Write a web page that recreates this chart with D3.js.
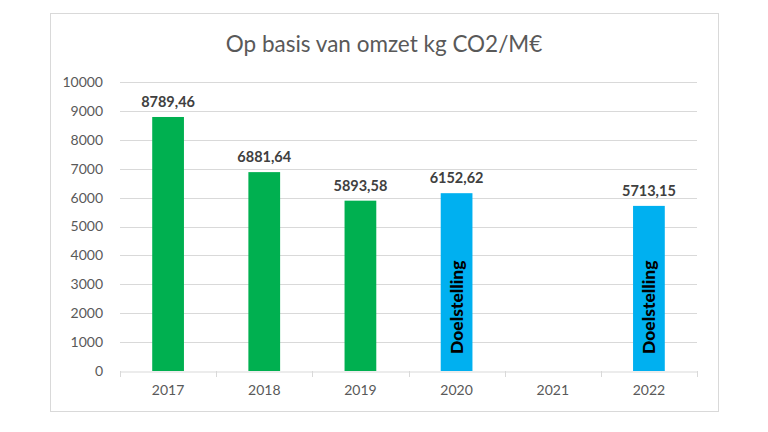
<!DOCTYPE html>
<html>
<head>
<meta charset="utf-8">
<script src="https://cdn.jsdelivr.net/npm/d3@7"></script>
<style>
  body { margin: 0; background: #fff; }
  svg { font-family: Lato, "Open Sans", sans-serif; }
</style>
</head>
<body>
<script>
var years = ["2017", "2018", "2019", "2020", "2021", "2022"];
var values = [8789.46, 6881.64, 5893.58, 6152.62, null, 5713.15];
var labels = ["8789,46", "6881,64", "5893,58", "6152,62", "", "5713,15"];
var isTarget = [false, false, false, true, false, true];
var yTicks = [0, 1000, 2000, 3000, 4000, 5000, 6000, 7000, 8000, 9000, 10000];

var W = 768, H = 432;
var margin = {top: 82, right: 71, bottom: 61, left: 120};

var svg = d3.select("body").append("svg")
  .attr("width", W).attr("height", H);

// outer chart border
svg.append("rect")
  .attr("x", 50.5).attr("y", 13.5)
  .attr("width", 668).attr("height", 398)
  .attr("fill", "#fff").attr("stroke", "#d9d9d9");

svg.append("text")
  .attr("x", 384).attr("y", 52)
  .attr("text-anchor", "middle")
  .attr("font-size", 22.5)
  .attr("fill", "#595959")
  .text("Op basis van omzet kg CO2/M€");

var x = d3.scaleBand()
  .domain(years)
  .range([margin.left, W - margin.right])
  .paddingInner(0.67).paddingOuter(0.335);

var y = d3.scaleLinear()
  .domain([0, 10000])
  .range([H - margin.bottom, margin.top]);

// gridlines
svg.append("g").selectAll("line").data(yTicks.slice(1)).join("line")
  .attr("x1", margin.left).attr("x2", W - margin.right)
  .attr("y1", function(d) { return Math.round(y(d)) + 0.5; })
  .attr("y2", function(d) { return Math.round(y(d)) + 0.5; })
  .attr("stroke", "#d9d9d9");

var yAxis = svg.append("g")
  .attr("transform", "translate(" + (margin.left - 17) + ",0)")
  .call(d3.axisLeft(y).tickValues(yTicks).tickFormat(d3.format("d")).tickSize(0).tickPadding(0));
yAxis.select(".domain").remove();
yAxis.selectAll("text").attr("font-size", 14).attr("fill", "#595959")
  .attr("font-family", "Lato, sans-serif");

var xAxis = svg.append("g")
  .attr("transform", "translate(0," + (Math.round(y(0)) + 0.5) + ")")
  .call(d3.axisBottom(x).tickSize(0).tickPadding(14));
xAxis.select(".domain").attr("stroke", "#d9d9d9");
xAxis.selectAll("text").attr("font-size", 14).attr("fill", "#595959")
  .attr("font-family", "Lato, sans-serif");

// category separators on x axis
var step = x.step();
svg.append("g").selectAll("line").data(d3.range(years.length + 1)).join("line")
  .attr("x1", function(i) { return Math.round(margin.left + i * step) + 0.5; })
  .attr("x2", function(i) { return Math.round(margin.left + i * step) + 0.5; })
  .attr("y1", Math.round(y(0))).attr("y2", Math.round(y(0)) + 6)
  .attr("stroke", "#d9d9d9");

var data = years.map(function(yr, i) {
  return {year: yr, value: values[i], label: labels[i], target: isTarget[i]};
}).filter(function(d) { return d.value != null; });

svg.append("g").selectAll("rect").data(data).join("rect")
  .attr("x", function(d) { return x(d.year); })
  .attr("width", x.bandwidth())
  .attr("y", function(d) { return y(d.value); })
  .attr("height", function(d) { return y(0) - y(d.value); })
  .attr("fill", function(d) { return d.target ? "#00b0f0" : "#00b050"; });

svg.append("g").selectAll("text").data(data).join("text")
  .attr("x", function(d) { return x(d.year) + x.bandwidth() / 2; })
  .attr("y", function(d) { return y(d.value) - 10; })
  .attr("text-anchor", "middle")
  .attr("font-size", 14.5).attr("font-weight", "bold")
  .attr("fill", "#404040")
  .text(function(d) { return d.label; });

svg.append("g").selectAll("text").data(data.filter(function(d) { return d.target; })).join("text")
  .attr("transform", function(d) {
    return "translate(" + (x(d.year) + x.bandwidth() / 2 + 6) + "," + (y(0) - 17) + ") rotate(-90)";
  })
  .attr("font-size", 17.5).attr("font-weight", 900)
  .attr("fill", "#000")
  .text("Doelstelling");
</script>
</body>
</html>
